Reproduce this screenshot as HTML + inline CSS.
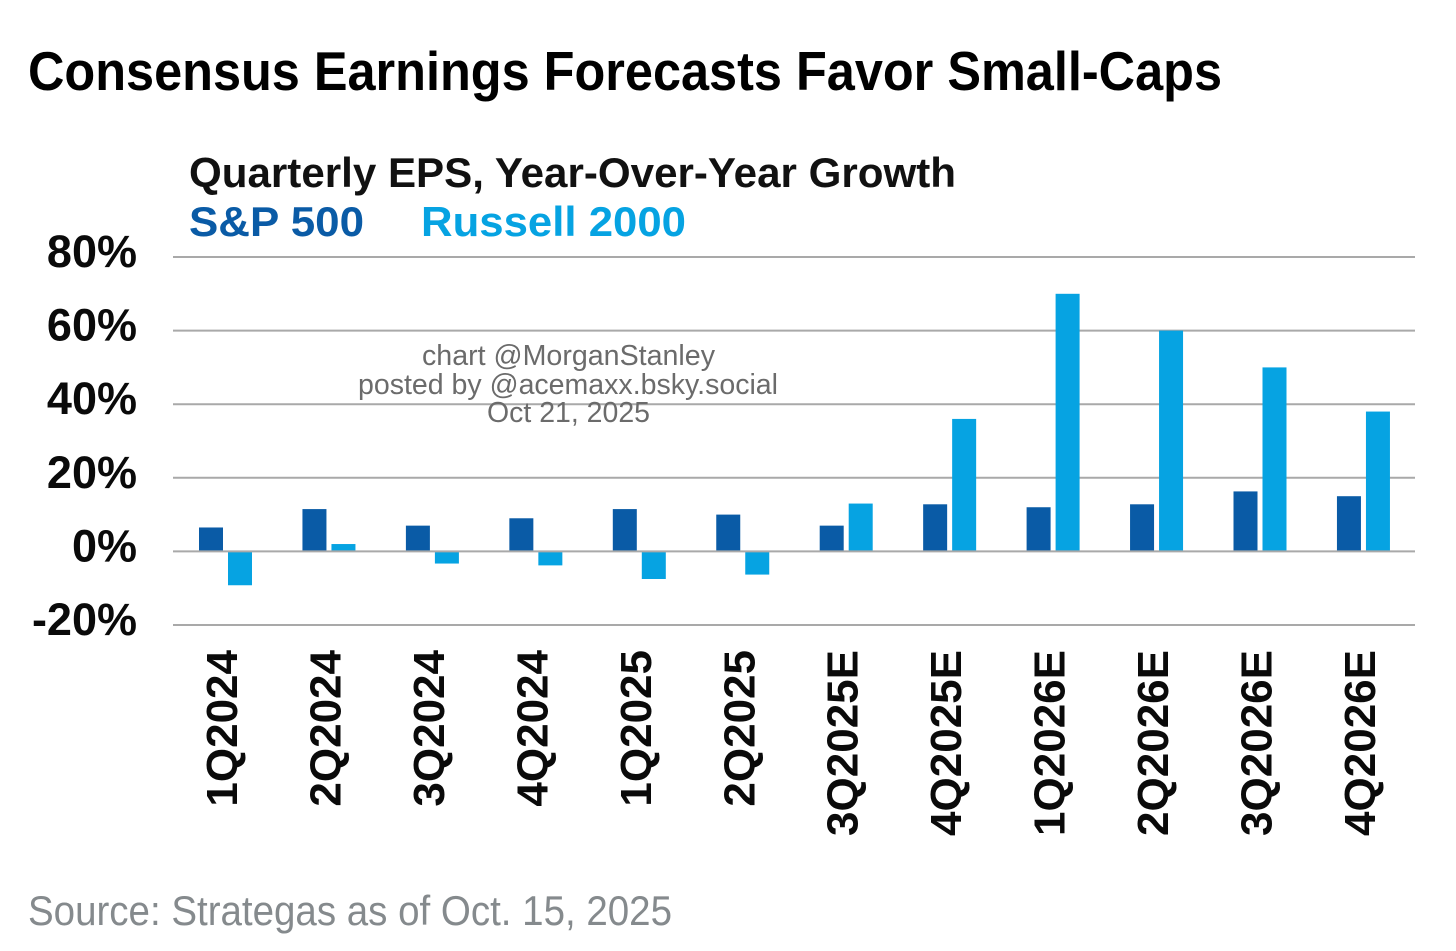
<!DOCTYPE html>
<html lang="en">
<head>
<meta charset="utf-8">
<title>Consensus Earnings Forecasts Favor Small-Caps</title>
<style>
  html, body { margin: 0; padding: 0; background: #fff; }
  body { width: 1456px; height: 951px; overflow: hidden; }
  svg { display: block; font-family: "Liberation Sans", sans-serif; }
</style>
</head>
<body>
<svg id="chart" xmlns="http://www.w3.org/2000/svg" width="1456" height="951" viewBox="0 0 1456 951">
  <rect x="0" y="0" width="1456" height="951" fill="#ffffff"/>
  <text x="28" y="90" font-size="55" font-weight="700" fill="#000" textLength="1194" lengthAdjust="spacingAndGlyphs">Consensus Earnings Forecasts Favor Small-Caps</text>
  <text x="189" y="187" font-size="42" font-weight="700" fill="#111" textLength="767" lengthAdjust="spacingAndGlyphs">Quarterly EPS, Year-Over-Year Growth</text>
  <text x="189" y="236" font-size="42" font-weight="700" fill="#0a5ba6" textLength="175" lengthAdjust="spacingAndGlyphs">S&amp;P 500</text>
  <text x="421" y="236" font-size="42" font-weight="700" fill="#06a3e2" textLength="265" lengthAdjust="spacingAndGlyphs">Russell 2000</text>
  <g id="grid"></g>
  <g id="bars"></g>
  <g id="zero"></g>
  <g id="yticks"></g>
  <g id="xticks"></g>
  <g font-size="28.5" fill="#6b6b6b" text-anchor="middle">
    <text x="568.5" y="365" textLength="293" lengthAdjust="spacingAndGlyphs">chart @MorganStanley</text>
    <text x="568" y="394" textLength="420" lengthAdjust="spacingAndGlyphs">posted by @acemaxx.bsky.social</text>
    <text x="568.5" y="422" textLength="163" lengthAdjust="spacingAndGlyphs">Oct 21, 2025</text>
  </g>
  <text x="28" y="925" font-size="42" fill="#858a8d" textLength="644" lengthAdjust="spacingAndGlyphs">Source: Strategas as of Oct. 15, 2025</text>
</svg>
<script>
const categories = ["1Q2024","2Q2024","3Q2024","4Q2024","1Q2025","2Q2025","3Q2025E","4Q2025E","1Q2026E","2Q2026E","3Q2026E","4Q2026E"];
const sp500 = [6.5, 11.5, 7, 9, 11.5, 10, 7, 12.8, 12, 12.8, 16.3, 15];
const russell2000 = [-9.2, 2, -3.3, -3.8, -7.5, -6.3, 13, 36, 70, 60, 50, 38];
const yTickValues = [80, 60, 40, 20, 0, -20];
const yTickLabels = ["80%", "60%", "40%", "20%", "0%", "-20%"];

const NS = "http://www.w3.org/2000/svg";
function yScale(v) { return 551.4 - 3.68 * v; }
function xScale(i) { return 226 + 103.45 * i; }

function make(tag, attrs) {
  const el = document.createElementNS(NS, tag);
  for (const k in attrs) el.setAttribute(k, attrs[k]);
  return el;
}

const gridG = document.getElementById("grid");
const zeroG = document.getElementById("zero");
const yG = document.getElementById("yticks");
yTickValues.forEach(function (v, i) {
  const y = yScale(v);
  const line = make("line", { x1: 173, x2: 1415, y1: y, y2: y, stroke: "#a9a9a9", "stroke-width": 2 });
  
  
  (v === 0 ? zeroG : gridG).appendChild(line);
  const t = make("text", { x: 137, y: y + 10, "text-anchor": "end", "font-size": 45, "font-weight": 700, fill: "#0a0a0a" });
  
  
  t.textContent = yTickLabels[i];
  yG.appendChild(t);
});

const barsG = document.getElementById("bars");
const xG = document.getElementById("xticks");
function addBar(value, x, color, name) {
  const y0 = yScale(0), y1 = yScale(value);
  const r = make("rect", { x: x, y: Math.min(y0, y1), width: 24, height: Math.abs(y1 - y0), fill: color });
  
  
  barsG.appendChild(r);
}
categories.forEach(function (c, i) {
  const cx = xScale(i);
  addBar(sp500[i], cx - 27, "#0a5ba6", "bar-sp500");
  addBar(russell2000[i], cx + 2, "#06a3e2", "bar-russell2000");
  const bx = cx + 11;
  const t = make("text", { transform: "translate(" + bx + ",650) rotate(-90)", "text-anchor": "end", "font-size": 44, "font-weight": 700, fill: "#0a0a0a" });
  
  
  t.textContent = c;
  xG.appendChild(t);
});
</script>
</body>
</html>
